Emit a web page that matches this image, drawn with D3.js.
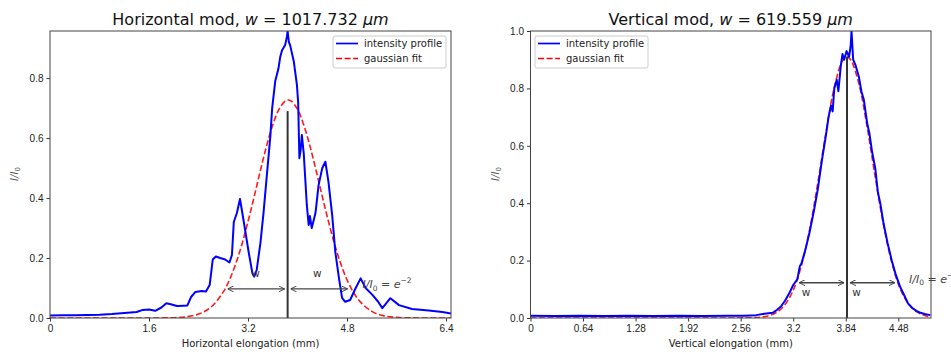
<!DOCTYPE html>
<html>
<head>
<meta charset="utf-8">
<script src="https://cdn.jsdelivr.net/npm/d3@7"></script>
<style>
  body { margin: 0; background: #fff; }
  svg { font-family: "DejaVu Sans", sans-serif; }
  .tick text { font-size: 10px; fill: #222; }
  .tick line { stroke: #333; }
</style>
</head>
<body>
<div id="container"></div>
<script>
// horizontal profile (mm, I/I0)
const hX = [0, 0.2, 0.4, 0.6, 0.8, 1.0, 1.2, 1.4, 1.5, 1.6, 1.7, 1.8, 1.88, 1.95, 2.05, 2.15, 2.22, 2.28, 2.35, 2.45,
  2.52, 2.58, 2.63, 2.68, 2.75, 2.83, 2.9, 2.94, 2.97, 3.02, 3.07, 3.1, 3.14, 3.21, 3.27, 3.3, 3.34, 3.4, 3.45, 3.51,
  3.56, 3.59, 3.64, 3.69, 3.72, 3.75, 3.8, 3.83, 3.84, 3.86, 3.88, 3.94, 3.99, 4.01, 4.03, 4.05, 4.07, 4.1, 4.15, 4.18,
  4.2, 4.23, 4.29, 4.34, 4.4, 4.45, 4.5, 4.56, 4.61, 4.67, 4.72, 4.77, 4.85, 4.94, 5.02, 5.1, 5.21, 5.3, 5.37, 5.5,
  5.64, 5.85, 6.12, 6.34, 6.48];
const hY = [0.008, 0.009, 0.009, 0.010, 0.011, 0.013, 0.017, 0.020, 0.027, 0.028, 0.024, 0.035, 0.049, 0.046, 0.040, 0.041, 0.042, 0.070, 0.087, 0.090,
  0.088, 0.110, 0.195, 0.205, 0.200, 0.195, 0.185, 0.210, 0.320, 0.350, 0.397, 0.360, 0.310, 0.220, 0.150, 0.138, 0.160, 0.250, 0.350, 0.490,
  0.604, 0.700, 0.790, 0.830, 0.870, 0.893, 0.910, 0.940, 0.957, 0.920, 0.910, 0.855, 0.777, 0.720, 0.533, 0.560, 0.610, 0.550, 0.377, 0.310,
  0.340, 0.300, 0.350, 0.443, 0.500, 0.521, 0.454, 0.343, 0.221, 0.132, 0.067, 0.054, 0.060, 0.100, 0.132, 0.100, 0.077, 0.055, 0.033, 0.066,
  0.043, 0.030, 0.025, 0.020, 0.015];
const hFitX = [0, 0.4, 0.8, 1.2, 1.6, 2.0, 2.2, 2.4, 2.6, 2.8, 2.9, 3.0, 3.1, 3.2, 3.3, 3.4, 3.5, 3.6, 3.7, 3.8, 3.85, 3.9,
  4.0, 4.1, 4.2, 4.3, 4.4, 4.5, 4.6, 4.7, 4.8, 4.9, 5.0, 5.2, 5.4, 5.6, 5.8, 6.0, 6.4, 6.48];
const hFitY = [0, 0, 0, 0, 0.0001, 0.001, 0.004, 0.013, 0.036, 0.087, 0.127, 0.180, 0.245, 0.322, 0.405, 0.492, 0.574, 0.644, 0.696, 0.723, 0.727, 0.723,
  0.696, 0.644, 0.574, 0.492, 0.405, 0.322, 0.245, 0.180, 0.127, 0.087, 0.057, 0.022, 0.007, 0.002, 0.0005, 0.0001, 0, 0];

// vertical profile (mm, I/I0)
const vX = [0, 0.3, 0.6, 0.9, 1.2, 1.5, 1.8, 2.1, 2.4, 2.6, 2.75, 2.85, 2.95, 3.0, 3.05, 3.1, 3.15, 3.2, 3.25, 3.28,
  3.3, 3.35, 3.4, 3.45, 3.5, 3.55, 3.6, 3.63, 3.66, 3.68, 3.7, 3.73, 3.75, 3.78, 3.8, 3.82, 3.85, 3.88, 3.9, 3.91,
  3.93, 3.96, 4.0, 4.03, 4.06, 4.1, 4.13, 4.16, 4.2, 4.23, 4.26, 4.3, 4.35, 4.4, 4.45, 4.5, 4.55, 4.6, 4.65, 4.7,
  4.75, 4.8, 4.87];
const vY = [0.008, 0.007, 0.008, 0.007, 0.008, 0.007, 0.008, 0.007, 0.008, 0.008, 0.010, 0.015, 0.018, 0.028, 0.040, 0.060, 0.085, 0.115, 0.135, 0.180,
  0.190, 0.240, 0.300, 0.370, 0.450, 0.550, 0.640, 0.700, 0.740, 0.720, 0.800, 0.830, 0.790, 0.880, 0.920, 0.900, 0.930, 0.910, 0.950, 1.000,
  0.900, 0.880, 0.840, 0.790, 0.760, 0.680, 0.640, 0.580, 0.520, 0.440, 0.400, 0.330, 0.260, 0.200, 0.150, 0.110, 0.080, 0.050, 0.035, 0.025,
  0.018, 0.014, 0.010];
const vFitX = [0, 1.0, 2.0, 2.5, 2.7, 2.8, 2.9, 3.0, 3.1, 3.2, 3.3, 3.4, 3.5, 3.6, 3.7, 3.8, 3.855, 3.9,
  4.0, 4.1, 4.2, 4.3, 4.4, 4.5, 4.6, 4.7, 4.8, 4.87];
const vFitY = [0, 0, 0, 0.0001, 0.0009, 0.0028, 0.008, 0.020, 0.047, 0.097, 0.183, 0.309, 0.472, 0.649, 0.803, 0.896, 0.910, 0.900,
  0.816, 0.666, 0.489, 0.324, 0.194, 0.104, 0.051, 0.022, 0.009, 0.004];

// ticks
const hTicks = [0, 1.6, 3.2, 4.8, 6.4];
const vTicks = [0, 0.64, 1.28, 1.92, 2.56, 3.2, 3.84, 4.48];
const hYTicks = [0, 0.2, 0.4, 0.6, 0.8];
const vYTicks = [0, 0.2, 0.4, 0.6, 0.8, 1.0];

// fit results: centre, waist w (mm), e^-2 level, height of centre marker
const hCenter = 3.84, hWaist = 1.017732, hLevel = 0.097, hMark = 0.69;
const vCenter = 3.855, vWaist = 0.619559, vLevel = 0.123, vMark = 0.91;

const svg = d3.select('#container')
  .append('svg')
    .attr('width', 951)
    .attr('height', 354);

const defs = svg.append('defs');
defs.append('marker')
  .attr('id', 'head')
  .attr('viewBox', '0 0 10 10')
  .attr('refX', 10).attr('refY', 5)
  .attr('markerWidth', 6).attr('markerHeight', 6)
  .attr('markerUnits', 'userSpaceOnUse')
  .attr('orient', 'auto-start-reverse')
  .append('path')
    .attr('d', 'M0,0 L10,5 L0,10')
    .attr('fill', 'none')
    .attr('stroke', '#444')
    .attr('stroke-width', 1.6);

function panel(opt) {
  const x = d3.scaleLinear().domain(opt.xDomain).range([opt.left, opt.right]);
  const y = d3.scaleLinear().domain(opt.yDomain).range([318, 31]);
  const g = svg.append('g').attr('class', opt.id);

  defs.append('clipPath').attr('id', 'clip-' + opt.id)
    .append('rect')
      .attr('x', opt.left).attr('y', 31)
      .attr('width', opt.right - opt.left).attr('height', 287);

  // axes
  g.append('g')
    .attr('transform', 'translate(0,318)')
    .call(d3.axisBottom(x).tickValues(opt.xTicks).tickFormat(d => d === 0 ? '0' : String(d)).tickSize(3.5).tickSizeOuter(0).tickPadding(3))
    .call(a => a.select('.domain').remove());
  g.append('g')
    .attr('transform', `translate(${opt.left},0)`)
    .call(d3.axisLeft(y).tickValues(opt.yTicks).tickFormat(d3.format('.1f')).tickSize(3.5).tickSizeOuter(0).tickPadding(3))
    .call(a => a.select('.domain').remove());

  const plot = g.append('g').attr('clip-path', `url(#clip-${opt.id})`);
  const line = d3.line().x(d => x(d[0])).y(d => y(d[1]));

  plot.append('path')
    .datum(d3.zip(opt.fx, opt.fy))
    .attr('d', line.curve(d3.curveCatmullRom))
    .attr('fill', 'none')
    .attr('stroke', '#ff0000')
    .attr('stroke-opacity', 0.9)
    .attr('stroke-width', 1.6)
    .attr('stroke-dasharray', '6,2.6');

  plot.append('path')
    .datum(d3.zip(opt.px, opt.py))
    .attr('d', line.curve(d3.curveLinear))
    .attr('fill', 'none')
    .attr('stroke', '#0000ff')
    .attr('stroke-width', 2)
    .attr('stroke-linejoin', 'round');

  // centre marker
  g.append('line')
    .attr('x1', x(opt.center)).attr('x2', x(opt.center))
    .attr('y1', y(0)).attr('y2', y(opt.mark))
    .attr('stroke', '#333')
    .attr('stroke-width', 2);

  // w arrows
  const ay = y(opt.level);
  [[opt.center - opt.waist, opt.center], [opt.center, opt.center + opt.waist]].forEach(([a, b]) => {
    g.append('line')
      .attr('x1', x(a) + 3).attr('x2', x(b) - 3)
      .attr('y1', ay).attr('y2', ay)
      .attr('stroke', '#444')
      .attr('stroke-width', 1.4)
      .attr('marker-start', 'url(#head)')
      .attr('marker-end', 'url(#head)');
  });

  opt.wLabels.forEach(p => {
    g.append('text')
      .attr('x', x(p[0])).attr('y', y(p[1]))
      .attr('text-anchor', 'middle')
      .attr('font-size', 10.5)
      .attr('fill', '#333')
      .text('w');
  });

  const lev = g.append('text')
    .attr('x', x(opt.levelLabel[0])).attr('y', y(opt.levelLabel[1]))
    .attr('font-size', 11)
    .attr('fill', '#444');
  lev.append('tspan').attr('font-style', 'italic').text('I/I');
  lev.append('tspan').attr('font-size', 7.5).attr('dy', 2.5).text('0');
  lev.append('tspan').attr('dy', -2.5).text(' = ');
  lev.append('tspan').attr('font-style', 'italic').text('e');
  lev.append('tspan').attr('font-size', 7.5).attr('dy', -5).text('\u22122');

  // frame
  g.append('rect')
    .attr('x', opt.left).attr('y', 31)
    .attr('width', opt.right - opt.left).attr('height', 287)
    .attr('fill', 'none')
    .attr('stroke', '#444')
    .attr('stroke-width', 1);

  // title
  const t = g.append('text')
    .attr('x', (opt.left + opt.right) / 2).attr('y', 25)
    .attr('text-anchor', 'middle')
    .attr('font-size', 16)
    .attr('fill', '#111');
  t.append('tspan').text(opt.title + ', ');
  t.append('tspan').attr('font-style', 'italic').text('w');
  t.append('tspan').text(' = ' + (opt.waist * 1000).toFixed(3) + ' ');
  t.append('tspan').attr('font-style', 'italic').text('\u03bcm');

  // axis labels
  g.append('text')
    .attr('x', (opt.left + opt.right) / 2).attr('y', 347)
    .attr('text-anchor', 'middle')
    .attr('font-size', 10)
    .attr('fill', '#222')
    .text(opt.xLabel);

  const yl = g.append('text')
    .attr('transform', `translate(${opt.left - 32},174) rotate(-90)`)
    .attr('text-anchor', 'middle')
    .attr('font-size', 10)
    .attr('fill', '#555');
  yl.append('tspan').attr('font-style', 'italic').text('I/I');
  yl.append('tspan').attr('font-size', 7).attr('dy', 2).text('0');

  // legend
  const lg = g.append('g').attr('transform', `translate(${opt.legendX},36)`);
  lg.append('rect')
    .attr('width', 113).attr('height', 32)
    .attr('rx', 2)
    .attr('fill', '#fff').attr('fill-opacity', 0.85)
    .attr('stroke', '#ccc');
  [['intensity profile', '#0000ff', null], ['gaussian fit', '#ff0000', '6,2.6']].forEach((e, i) => {
    const yy = 7.5 + i * 15;
    lg.append('line')
      .attr('x1', 3).attr('x2', 25)
      .attr('y1', yy).attr('y2', yy)
      .attr('stroke', e[1])
      .attr('stroke-width', 1.7)
      .attr('stroke-dasharray', e[2]);
    lg.append('text')
      .attr('x', 31).attr('y', yy + 3.5)
      .attr('font-size', 10)
      .attr('fill', '#222')
      .text(e[0]);
  });
}

panel({
  id: 'hor', left: 50, right: 451,
  xDomain: [0, 6.48], yDomain: [0, 0.957],
  xTicks: hTicks, yTicks: hYTicks,
  px: hX, py: hY, fx: hFitX, fy: hFitY,
  center: hCenter, waist: hWaist, level: hLevel, mark: hMark,
  wLabels: [[3.32, 0.137], [4.32, 0.137]],
  levelLabel: [5.05, 0.1],
  title: 'Horizontal mod',
  xLabel: 'Horizontal elongation (mm)',
  legendX: 333
});

panel({
  id: 'ver', left: 530.5, right: 931,
  xDomain: [0, 4.878], yDomain: [0, 1.0],
  xTicks: vTicks, yTicks: vYTicks,
  px: vX, py: vY, fx: vFitX, fy: vFitY,
  center: vCenter, waist: vWaist, level: vLevel, mark: vMark,
  wLabels: [[3.356, 0.078], [3.97, 0.078]],
  levelLabel: [4.61, 0.122],
  title: 'Vertical mod',
  xLabel: 'Vertical elongation (mm)',
  legendX: 535
});
</script>
</body>
</html>
